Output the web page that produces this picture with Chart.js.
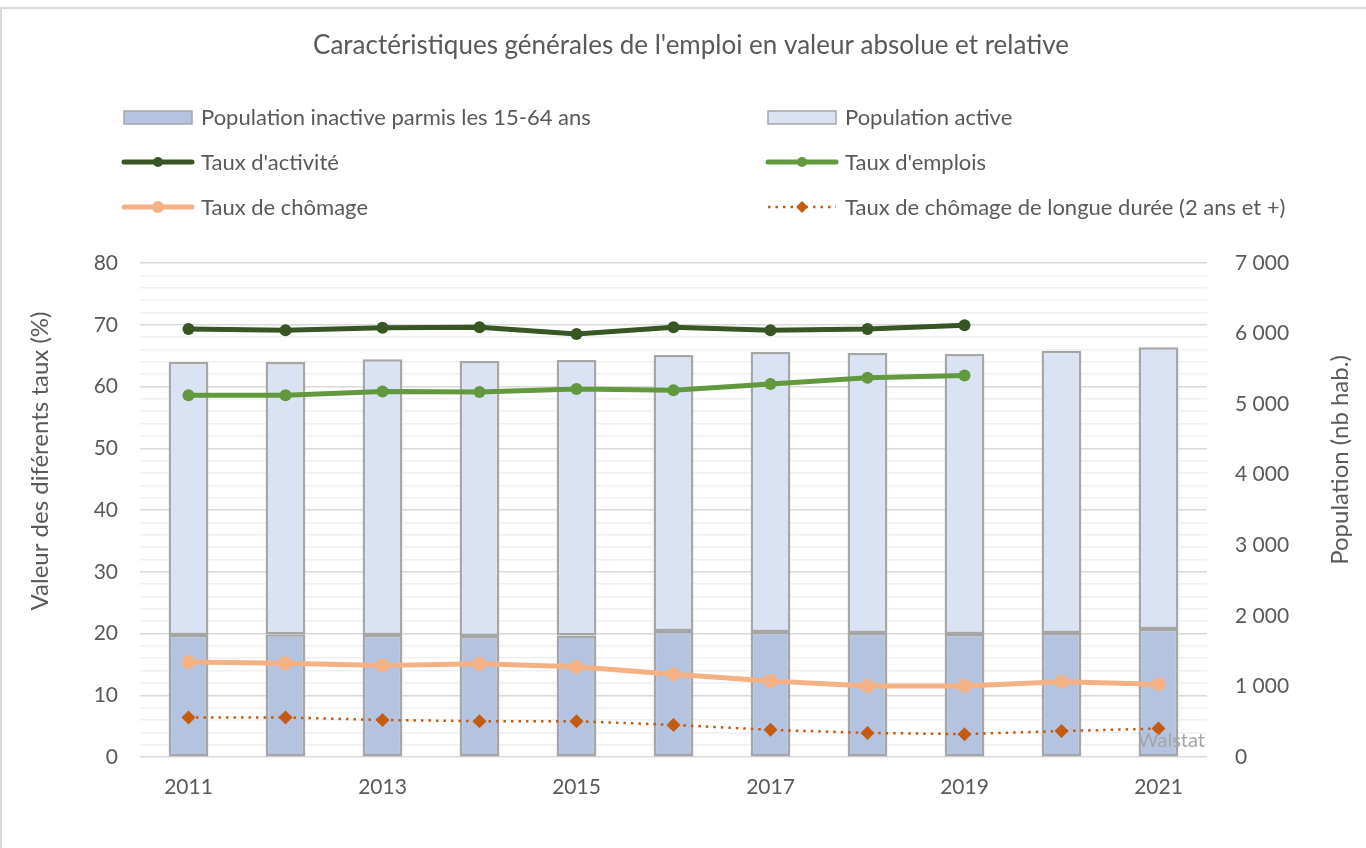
<!DOCTYPE html>
<html lang="fr">
<head>
<meta charset="utf-8">
<title>Caractéristiques générales de l'emploi</title>
<script src="https://cdn.jsdelivr.net/npm/chart.js@4.4.1/dist/chart.umd.min.js"></script>
<style>
  html, body { margin: 0; padding: 0; background: #fff; }
  #wrap { position: relative; width: 1366px; height: 848px; }
</style>
</head>
<body>
<div id="wrap"><canvas id="chart"></canvas></div>
<script>
// Donnees
const annees = ['2011', '2012', '2013', '2014', '2015', '2016', '2017', '2018', '2019', '2020', '2021'];
const popInactive = [1729, 1738, 1729, 1715, 1722, 1785, 1771, 1757, 1743, 1757, 1814];
const popActive = [3872, 3859, 3906, 3897, 3904, 3911, 3968, 3968, 3968, 4000, 3991];
const tauxActivite = [69.3, 69.1, 69.5, 69.6, 68.5, 69.6, 69.1, 69.3, 69.9, null, null];
const tauxEmplois = [58.6, 58.6, 59.2, 59.1, 59.6, 59.4, 60.4, 61.4, 61.8, null, null];
const tauxChomage = [15.4, 15.2, 14.8, 15.1, 14.6, 13.4, 12.3, 11.5, 11.5, 12.2, 11.8];
const tauxChomageLong = [6.4, 6.4, 6.0, 5.8, 5.8, 5.2, 4.4, 3.9, 3.7, 4.2, 4.6];
const ticksGauche = [0, 10, 20, 30, 40, 50, 60, 70, 80];
const ticksDroite = [0, 1000, 2000, 3000, 4000, 5000, 6000, 7000];

const titre = "Caractéristiques générales de l'emploi en valeur absolue et relative";
const titreGauche = 'Valeur des diférents taux (%)';
const titreDroite = 'Population (nb hab.)';
const txtColor = '#595959';
const police = 'Lato, "Open Sans", sans-serif';

Chart.defaults.font.family = police;
Chart.defaults.color = txtColor;

// cadre, titres, legende et mention Walstat
const decorPlugin = {
  id: 'decor',
  beforeDraw(chart) {
    const ctx = chart.ctx;
    ctx.save();
    ctx.strokeStyle = '#d9d9d9';
    ctx.lineWidth = 2;
    ctx.beginPath();
    ctx.moveTo(1, 848);
    ctx.lineTo(1, 8);
    ctx.lineTo(1366, 8);
    ctx.stroke();
    ctx.restore();
  },
  afterDraw(chart) {
    const ctx = chart.ctx;
    const ds = chart.data.datasets;
    ctx.save();
    ctx.fillStyle = txtColor;
    ctx.font = '26px ' + police;
    ctx.textAlign = 'center';
    ctx.textBaseline = 'middle';
    ctx.fillText(titre, 691, 46);

    // titres des axes (lus de bas en haut)
    ctx.font = '24px ' + police;
    ctx.save();
    ctx.translate(40, 461);
    ctx.rotate(-Math.PI / 2);
    ctx.fillText(titreGauche, 0, 0);
    ctx.restore();
    ctx.save();
    ctx.translate(1340, 460);
    ctx.rotate(-Math.PI / 2);
    ctx.fillText(titreDroite, 0, 0);
    ctx.restore();

    // legende sur 2 colonnes
    const cols = [124, 768];
    const rows = [117, 162, 207];
    ctx.font = '22px ' + police;
    ctx.textAlign = 'left';
    ds.forEach((d, i) => {
      const x = cols[i % 2];
      const y = rows[Math.floor(i / 2)];
      ctx.save();
      if (d.type === 'bar') {
        ctx.fillStyle = d.backgroundColor;
        ctx.fillRect(x, y - 6, 68, 13);
        ctx.strokeStyle = d.borderColor;
        ctx.lineWidth = 1.5;
        ctx.strokeRect(x, y - 6, 68, 13);
      } else {
        ctx.strokeStyle = d.borderColor;
        ctx.lineWidth = d.borderWidth;
        ctx.lineCap = d.borderDash ? 'butt' : 'round';
        if (d.borderDash) ctx.setLineDash(d.borderDash);
        ctx.beginPath();
        ctx.moveTo(x, y);
        ctx.lineTo(x + 68, y);
        ctx.stroke();
        ctx.setLineDash([]);
        ctx.fillStyle = d.pointBackgroundColor;
        const r = d.pointRadius - 1;
        ctx.beginPath();
        if (d.pointStyle === 'rectRot') {
          ctx.moveTo(x + 34, y - r);
          ctx.lineTo(x + 34 + r, y);
          ctx.lineTo(x + 34, y + r);
          ctx.lineTo(x + 34 - r, y);
          ctx.closePath();
        } else {
          ctx.arc(x + 34, y, r, 0, Math.PI * 2);
        }
        ctx.fill();
      }
      ctx.restore();
      ctx.fillStyle = txtColor;
      ctx.fillText(d.label, x + 77, y + 1);
    });

    ctx.fillStyle = '#a6a6a6';
    ctx.font = '20px ' + police;
    ctx.textAlign = 'right';
    ctx.fillText('Walstat', chart.chartArea.right - 2, 741);
    ctx.restore();
  }
};

const ctx = document.getElementById('chart').getContext('2d');
new Chart(ctx, {
  type: 'bar',
  data: {
    labels: annees,
    datasets: [
      {
        type: 'bar',
        label: 'Population inactive parmis les 15-64 ans',
        data: popInactive,
        yAxisID: 'y1',
        backgroundColor: '#b4c4e0',
        borderColor: '#a6a6a6',
        borderWidth: 2.5,
        borderSkipped: false,
        order: 2
      },
      {
        type: 'bar',
        label: 'Population active',
        data: popActive,
        yAxisID: 'y1',
        backgroundColor: '#dae3f3',
        borderColor: '#a6a6a6',
        borderWidth: 2.5,
        borderSkipped: false,
        order: 2
      },
      {
        type: 'line',
        label: "Taux d'activité",
        data: tauxActivite,
        yAxisID: 'y',
        borderColor: '#375623',
        backgroundColor: '#375623',
        pointBackgroundColor: '#375623',
        pointBorderWidth: 0,
        borderWidth: 5,
        pointRadius: 6,
        order: 1
      },
      {
        type: 'line',
        label: "Taux d'emplois",
        data: tauxEmplois,
        yAxisID: 'y',
        borderColor: '#62993e',
        backgroundColor: '#62993e',
        pointBackgroundColor: '#62993e',
        pointBorderWidth: 0,
        borderWidth: 5,
        pointRadius: 6,
        order: 1
      },
      {
        type: 'line',
        label: 'Taux de chômage',
        data: tauxChomage,
        yAxisID: 'y',
        borderColor: '#f4b183',
        backgroundColor: '#f4b183',
        pointBackgroundColor: '#f4b183',
        pointBorderWidth: 0,
        borderWidth: 5,
        pointRadius: 7,
        order: 1
      },
      {
        type: 'line',
        label: 'Taux de chômage de longue durée (2 ans et +)',
        data: tauxChomageLong,
        yAxisID: 'y',
        borderColor: '#c55a11',
        backgroundColor: '#c55a11',
        pointBackgroundColor: '#c55a11',
        pointBorderWidth: 0,
        borderWidth: 2.5,
        borderDash: [2.5, 5],
        pointStyle: 'rectRot',
        pointRadius: 7,
        order: 0
      }
    ]
  },
  options: {
    responsive: true,
    maintainAspectRatio: false,
    animation: false,
    layout: { padding: { top: 263, left: 0, right: 0, bottom: 0 } },
    plugins: {
      legend: { display: false },
      title: { display: false },
      tooltip: { enabled: false }
    },
    datasets: {
      bar: { categoryPercentage: 0.5, barPercentage: 0.82 }
    },
    scales: {
      x: {
        stacked: true,
        grid: { display: false, drawTicks: false },
        border: { display: false },
        ticks: {
          autoSkip: false,
          maxRotation: 0,
          padding: 18,
          font: { size: 21 },
          callback: function(v, i) { return i % 2 === 0 ? annees[i] : ''; }
        },
        afterFit(scale) { scale.height = 91; }
      },
      y: {
        position: 'left',
        min: 0,
        max: 80,
        border: { display: false },
        grid: {
          drawTicks: false,
          lineWidth: 1.5,
          color: (c) => (c.tick && c.tick.value % 10 === 0) ? '#d9d9d9' : '#f0f0f0'
        },
        ticks: {
          stepSize: 2,
          padding: 22,
          autoSkip: false,
          font: { size: 21 },
          callback: (v) => ticksGauche.includes(v) ? String(v) : ''
        },
        afterFit(scale) { scale.width = 140; }
      },
      y1: {
        position: 'right',
        stacked: true,
        min: 0,
        max: 7000,
        border: { display: false },
        grid: { drawOnChartArea: false, drawTicks: false },
        ticks: {
          stepSize: 1000,
          padding: 28,
          font: { size: 21 },
          callback: (v) => ticksDroite.includes(v) ? v.toLocaleString('fr-FR').replace(/\s/g, ' ') : ''
        },
        afterFit(scale) { scale.width = 159; }
      }
    }
  },
  plugins: [decorPlugin]
});
</script>
</body>
</html>
